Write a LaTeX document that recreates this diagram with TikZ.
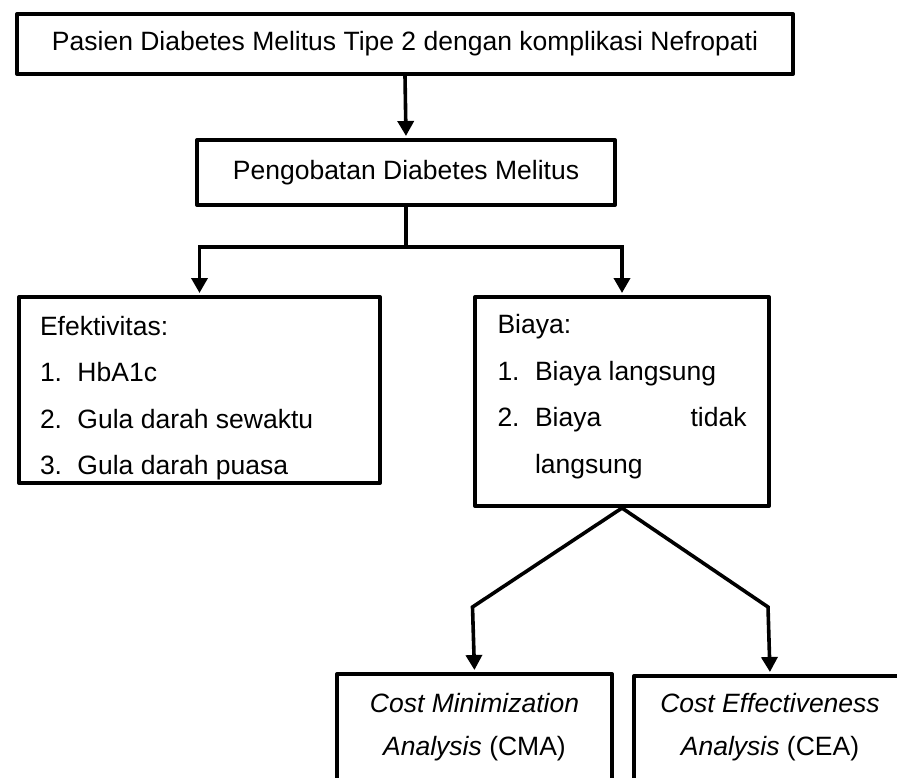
\documentclass[tikz,border=0pt]{standalone}
\usepackage{fontspec}
\setmainfont{Liberation Sans}
\usetikzlibrary{positioning}
\usetikzlibrary{arrows.meta}

\begin{document}
\begin{tikzpicture}[x=0.5pt, y=-0.5pt]
\pgfmathsetmacro{\YCB}{247}
\pgfmathsetmacro{\YKK}{607}
\newcommand{\nomor}[1]{\makebox[18.75pt][l]{#1}}

\tikzset{
  kotak/.style={draw, rectangle, line width=2pt, line join=round, align=center,
  font=\fontsize{13.25pt}{23.25pt}\selectfont},
  panah/.style={line width=1.8pt, ->, shorten >=1pt, >={Triangle[width=8pt,length=7.5pt]}},
}

\useasboundingbox (0,0) rectangle (897,777);
\clip (0,0) rectangle (897,777);

\node[kotak, minimum width=388pt, minimum height=30pt] (pasien) at (405,44) {Pasien Diabetes Melitus Tipe 2 dengan komplikasi Nefropati};
\node[kotak, minimum width=209pt, minimum height=32.5pt] (obat) at (406,172.5) {Pengobatan Diabetes Melitus};

\node[kotak, anchor=north west, inner xsep=10.5pt, inner ysep=2.75pt] (efektif) at (17,295) {\parbox[c][87.5pt][t]{159.5pt}{\strut Efektivitas:\\
\nomor{1.}HbA1c\\
\nomor{2.}Gula darah sewaktu\\
\nomor{3.}Gula darah puasa}};
\node[kotak, anchor=north west, inner xsep=11.25pt, inner ysep=2.2pt] (biaya) at (473,295) {\parbox[c][100.1pt][t]{124.5pt}{\strut Biaya:\\
\nomor{1.}Biaya langsung\\
\nomor{2.}Biaya\hfill tidak\\
\hspace*{18.75pt}langsung}};

\node[kotak, anchor=north west, inner xsep=5pt, inner ysep=3.2pt] (cma) at (335,672) {\parbox[c][70pt][t]{127.5pt}{\centering\strut\textit{Cost Minimization}\\[-1.75pt]
\textit{Analysis} (CMA)}};
\node[kotak, anchor=north west, inner xsep=5pt, inner ysep=2pt] (cea) at (632,674) {\parbox[c][70pt][t]{126pt}{\centering\strut\textit{Cost Effectiveness}\\[-1.75pt]
\textit{Analysis} (CEA)}};

\coordinate (cabang) at (406,\YCB);
\coordinate (kiri) at (472.5,\YKK);
\coordinate (kanan) at (768,\YKK);

\draw[panah] (pasien.south) -- (obat.north);
\draw[panah, -] (obat.south) -- (cabang);
\draw[panah] (cabang) -| (efektif.north);
\draw[panah] (cabang) -| (biaya.north);
\draw[panah] (biaya.south) -- (kiri) -- (cma.north);
\draw[panah] (biaya.south) -- (kanan) -- (cea.north);
\end{tikzpicture}
\end{document}
